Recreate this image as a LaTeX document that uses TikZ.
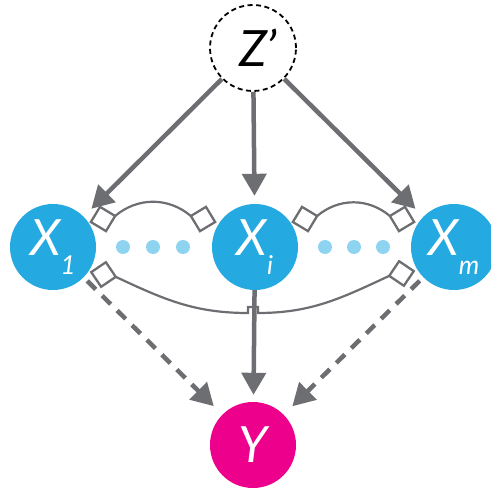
\documentclass[tikz,border=0pt]{standalone}
\usepackage{fontspec}
\setmainfont{Lato}
\usetikzlibrary{arrows.meta,calc,shapes.geometric}
\definecolor{varblue}{HTML}{24A9E1}
\definecolor{dotblue}{HTML}{8ED4F1}
\definecolor{outmagenta}{HTML}{EC008C}
\definecolor{edgegray}{HTML}{6D6E71}
% index set below the variable letter
\newcommand{\subtxt}[1]{\raisebox{-19pt}{\fontsize{26}{26}\selectfont #1}}
\begin{document}
\begin{tikzpicture}[x=1pt,y=1pt,
  var/.style={circle, fill=varblue, minimum size=86pt, inner sep=0pt,
    text=white, font=\fontsize{50}{50}\selectfont\itshape},
  outvar/.style={var, fill=outmagenta},
  latent/.style={circle, draw=black, line width=1.8pt,
    dash pattern=on 5pt off 3.5pt, fill=white, minimum size=86pt,
    inner sep=0pt, font=\fontsize{50}{50}\selectfont\itshape},
  ellip/.style={circle, fill=dotblue, minimum size=14pt, inner sep=0pt},
  causal/.style={draw=edgegray, line width=4.5pt,
    -{Triangle[length=22pt,width=24pt]}},
  weak/.style={causal, dash pattern=on 12pt off 9pt},
  endmark/.style={diamond, aspect=1, draw=edgegray, line width=2.3pt,
    fill=white, minimum size=25pt, inner sep=0pt, outer sep=0pt},
  confound/.style={draw=edgegray, line width=2.2pt},
]
\useasboundingbox (0,0) rectangle (491,-489);

% variables
\node[latent] (Z)  at (253,-48)  {Z\rlap{’}};
\node[var]    (X1) at (53,-247)  {X\subtxt{1}};
\node[var]    (Xi) at (255,-247) {X\subtxt{i}};
\node[var]    (Xm) at (454,-247) {X\subtxt{m}};
\node[outvar] (Y)  at (253,-445) {Y};

% ellipsis dots
\node[ellip] (d1) at (123,-247) {};
\node[ellip] (d2) at (153,-247) {};
\node[ellip] (d3) at (183,-247) {};
\node[ellip] (d4) at (325,-247) {};
\node[ellip] (d5) at (354,-247) {};
\node[ellip] (d6) at (383,-247) {};

% causal edges
\draw[causal, shorten >=11pt] (Z) -- (X1);
\draw[causal, shorten >=8pt]  (Z) -- (Xi);
\draw[causal, shorten >=11pt] (Z) -- (Xm);
\draw[causal, shorten >=7pt]  (Xi) -- (Y);
\draw[weak, shorten <=5pt, shorten >=12pt] (X1) -- (Y);
\draw[weak, shorten <=5pt, shorten >=12pt] (Xm) -- (Y);

% diamond end marks of the bidirected arcs
\node[endmark, rotate=14]  (mA) at ($(X1)+(50,28)$) {};
\node[endmark, rotate=-14] (mB) at ($(Xi)+(-52,28)$) {};
\node[endmark, rotate=14]  (mC) at ($(Xi)+(50,28)$) {};
\node[endmark, rotate=-14] (mD) at ($(Xm)+(-52,28)$) {};
\node[endmark, rotate=-11] (mE) at ($(X1)+(50.5,-27.5)$) {};
\node[endmark, rotate=11]  (mF) at ($(Xm)+(-52.5,-26.5)$) {};

% bidirected (confounding) arcs
\draw[confound] (mA.east) to[out=40,in=140] (mB.west);
\draw[confound] (mC.east) to[out=40,in=140] (mD.west);
\coordinate (hopL) at ($(Xi)+(-7,-66)$);
\coordinate (hopR) at ($(Xi)+(3,-66)$);
\draw[confound] (mE.east) to[out=-25,in=180] (hopL) -- ++(0,6) -| (hopR)
  to[out=0,in=-155] (mF.west);
\end{tikzpicture}
\end{document}
